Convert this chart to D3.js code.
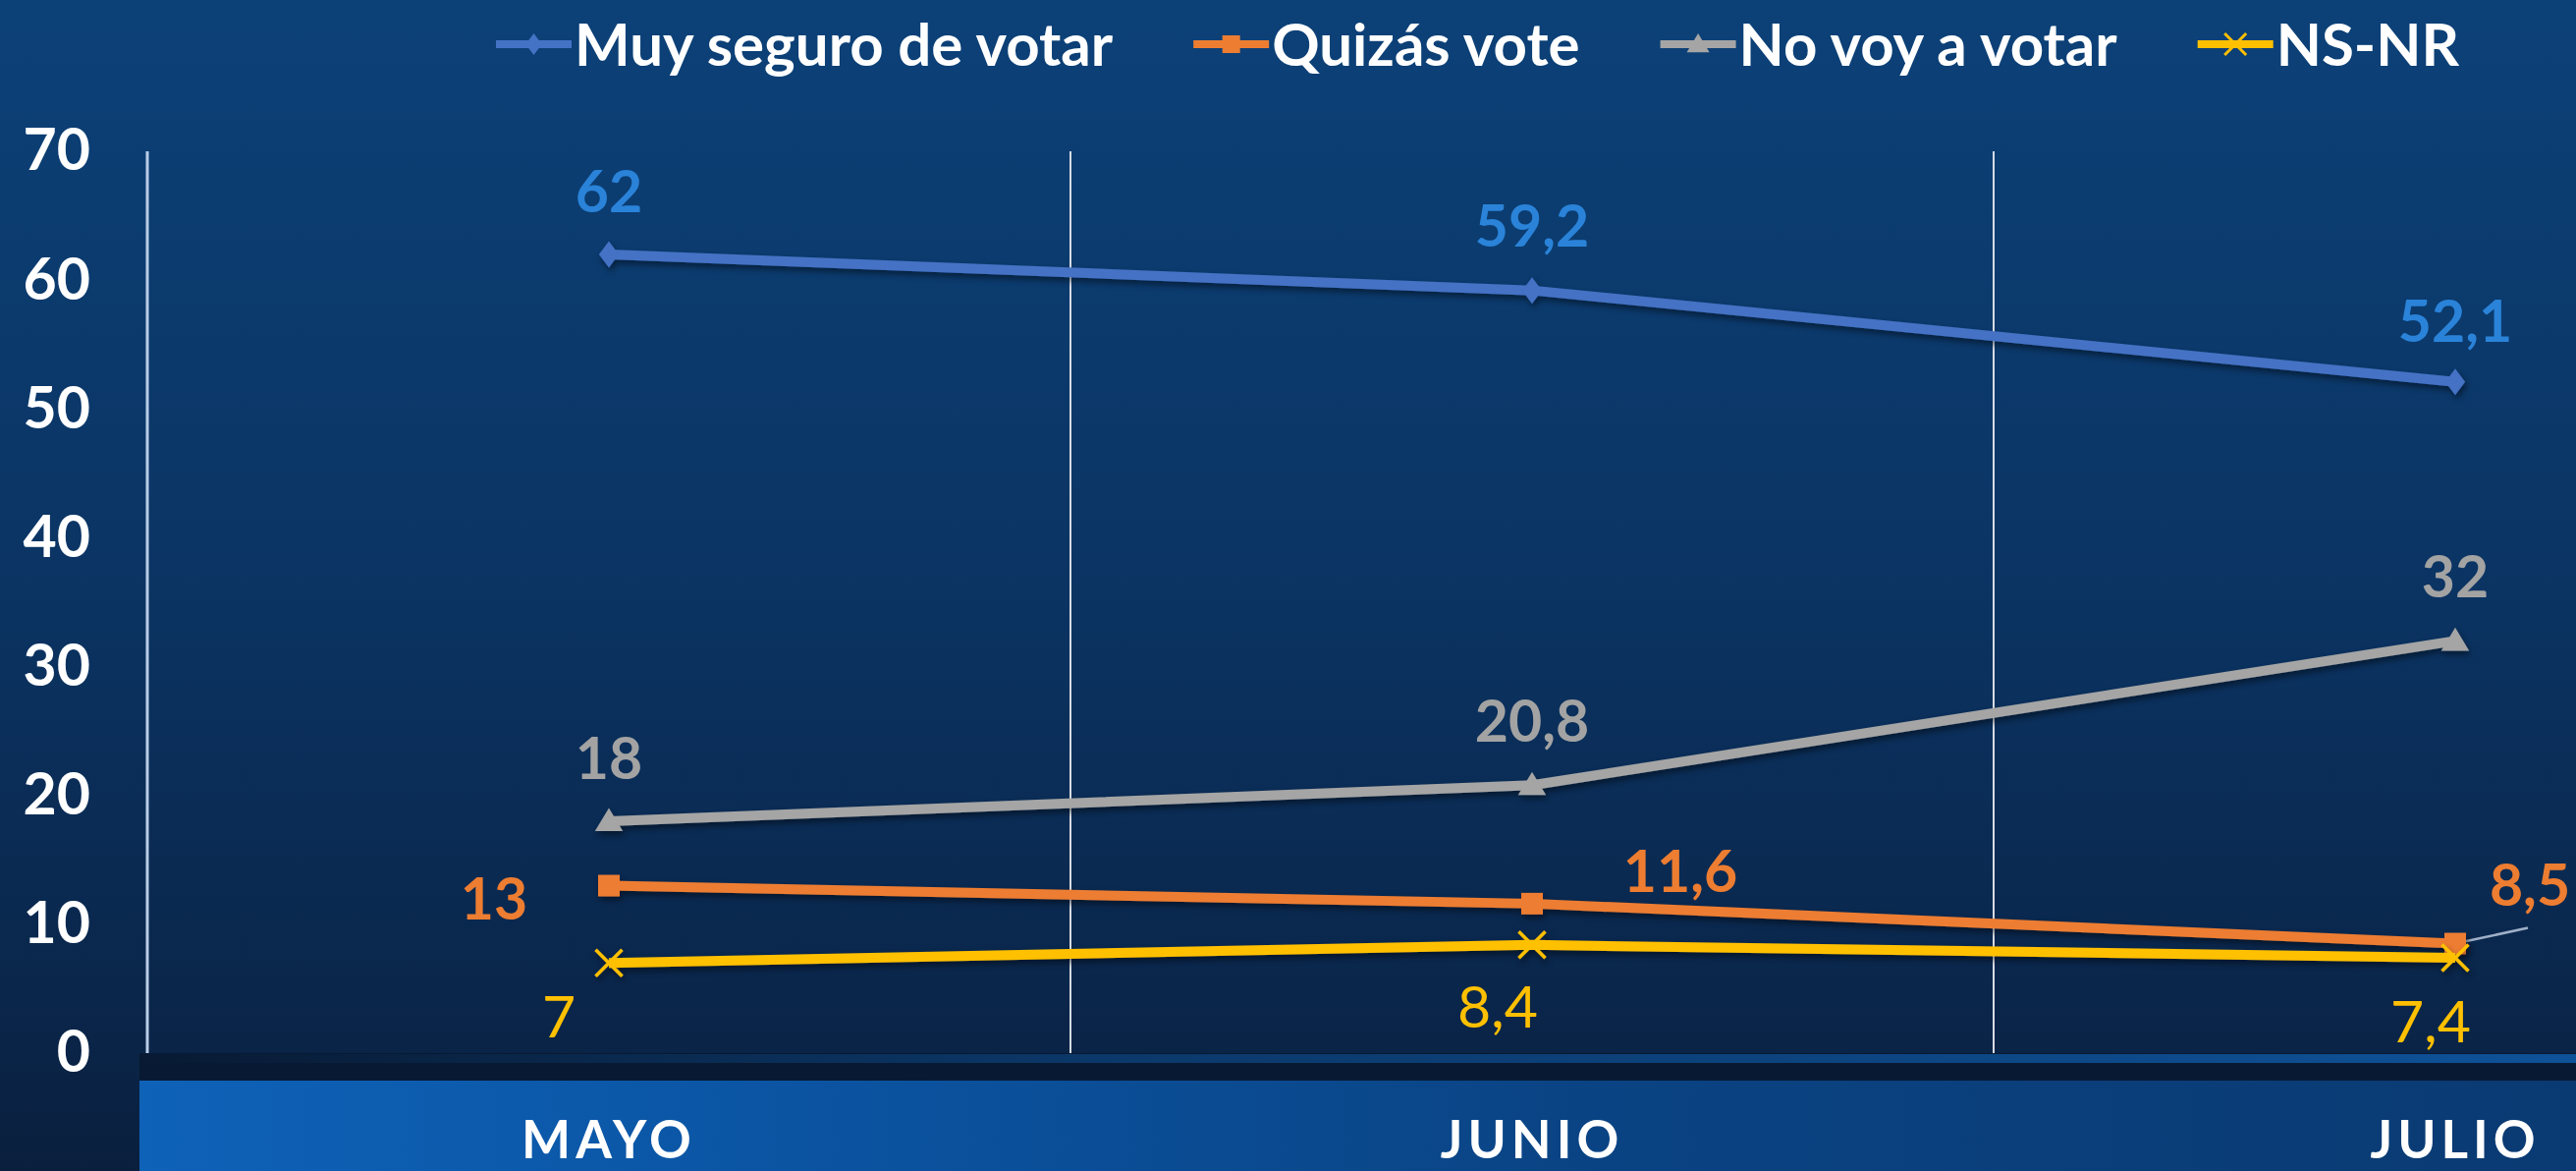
<!DOCTYPE html>
<html>
<head>
<meta charset="utf-8">
<script src="https://cdn.jsdelivr.net/npm/d3@7"></script>
<style>
  html, body { margin: 0; padding: 0; background: #0b2c55; }
  svg { display: block; font-family: Lato, "Open Sans", sans-serif; }
</style>
</head>
<body>
<svg id="chart"></svg>
<script>
// data
const months = ["MAYO", "JUNIO", "JULIO"]
const seriesNames = ["Muy seguro de votar", "Quizás vote", "No voy a votar", "NS-NR"]
const muySeguro = [62, 59.2, 52.1]
const quizas = [13, 11.6, 8.5]
const noVoy = [18, 20.8, 32]
const nsnr = [7, 8.4, 7.4]
const yTicks = [0, 10, 20, 30, 40, 50, 60, 70]

const W = 2623, H = 1192
const colors = ["#4472c4", "#ed7d31", "#a5a5a5", "#ffc000"]
const labelColors = ["#2a83d8", "#ed7d31", "#a3a3a3", "#ffc000"]
const markers = ["diamond", "square", "triangle", "x"]
// where each data label sits relative to its point (dx, dy of text centre)
const labelOffsets = [
  [[0, -64], [0, -66], [0, -62]],
  [[-117, 13], [151, -33], [76, -60]],
  [[0, -64], [0, -65], [0, -66]],
  [[-51, 55], [-35, 63], [-25, 65]]
]

const svg = d3.select("#chart").attr("width", W).attr("height", H)
const defs = svg.append("defs")

let bg = defs.append("linearGradient").attr("id", "bg")
  .attr("x1", 0).attr("y1", 0).attr("x2", 0).attr("y2", 1)
bg.append("stop").attr("offset", "0%").attr("stop-color", "#0c4178")
bg.append("stop").attr("offset", "50%").attr("stop-color", "#0b3463")
bg.append("stop").attr("offset", "90%").attr("stop-color", "#0a2447")
bg.append("stop").attr("offset", "100%").attr("stop-color", "#0a1f3d")

let band = defs.append("linearGradient").attr("id", "band")
  .attr("x1", 0).attr("y1", 0).attr("x2", 1).attr("y2", 0)
band.append("stop").attr("offset", "0%").attr("stop-color", "#0e62b8")
band.append("stop").attr("offset", "25%").attr("stop-color", "#0b55a4")
band.append("stop").attr("offset", "60%").attr("stop-color", "#0a4383")
band.append("stop").attr("offset", "100%").attr("stop-color", "#0a3a72")

let strip = defs.append("linearGradient").attr("id", "strip")
  .attr("x1", 0).attr("y1", 0).attr("x2", 1).attr("y2", 0)
strip.append("stop").attr("offset", "0%").attr("stop-color", "#0d4d90").attr("stop-opacity", 0)
strip.append("stop").attr("offset", "40%").attr("stop-color", "#0d4d90").attr("stop-opacity", 0.6)
strip.append("stop").attr("offset", "100%").attr("stop-color", "#0e5299").attr("stop-opacity", 1)

defs.append("filter").attr("id", "shadow")
  .attr("x", "-5%").attr("y", "-20%").attr("width", "110%").attr("height", "140%")
  .append("feDropShadow").attr("dx", 2).attr("dy", 4).attr("stdDeviation", 3)
  .attr("flood-color", "#000").attr("flood-opacity", 0.45)

svg.append("rect").attr("width", W).attr("height", H).attr("fill", "url(#bg)")

// scales: plot runs past the right edge like the original
const x = d3.scaleBand().domain(months).range([150, 2970])
const cx = d => x(d) + x.bandwidth() / 2
const y = d3.scaleLinear().domain([0, 70]).range([1072, 154])

// bottom strip + month banner
svg.append("rect").attr("x", 142).attr("y", 1072).attr("width", W - 142).attr("height", 28).attr("fill", "#081a33")
svg.append("rect").attr("x", 142).attr("y", 1073).attr("width", W - 142).attr("height", 9).attr("fill", "url(#strip)")
svg.append("rect").attr("x", 142).attr("y", 1100).attr("width", W - 142).attr("height", H - 1100).attr("fill", "url(#band)")

// vertical separators
svg.selectAll(".sep").data(months.slice(1)).enter().append("line")
  .attr("x1", d => x(d)).attr("x2", d => x(d))
  .attr("y1", y(70)).attr("y2", y(0))
  .attr("stroke", "#d6dbe3").attr("stroke-width", 2)
svg.append("line")
  .attr("x1", x(months[0])).attr("x2", x(months[0]))
  .attr("y1", y(70)).attr("y2", y(0))
  .attr("stroke", "#b9cde8").attr("stroke-width", 3)

// y axis
let yAxis = d3.axisLeft(y).tickValues(yTicks).tickSize(0).tickPadding(58)
let ya = svg.append("g").attr("transform", "translate(150,0)").call(yAxis)
ya.select(".domain").remove()
ya.selectAll("text").attr("fill", "#fff").style("font-size", "59px").style("font-weight", "bold")
  .attr("font-family", "Lato, sans-serif")

// month labels
svg.selectAll(".month").data(months).enter().append("text")
  .attr("x", cx).attr("y", 1179)
  .attr("text-anchor", "middle")
  .attr("fill", "#fff").style("font-size", "53px").style("font-weight", "bold")
  .style("letter-spacing", "5px")
  .text(d => d)

function symbolPath(type, size) {
  let s = size / 2
  if (type == "diamond") return `M0,${-s}L${s * 0.75},0L0,${s}L${-s * 0.75},0Z`
  if (type == "square") return `M${-s},${-s}H${s}V${s}H${-s}Z`
  if (type == "triangle") return `M0,${-s}L${s * 1.05},${s * 0.75}L${-s * 1.05},${s * 0.75}Z`
  return `M${-s},${-s}L${s},${s}M${s},${-s}L${-s},${s}`
}

const allSeries = [muySeguro, quizas, noVoy, nsnr]
let line = d3.line().x((v, i) => cx(months[i])).y(v => y(v))
let fmt = v => String(v).replace(".", ",")

// leader line for the 8,5 label
svg.append("line")
  .attr("x1", cx(months[2]) + 9).attr("y1", y(quizas[2]) - 2)
  .attr("x2", cx(months[2]) + 74).attr("y2", y(quizas[2]) - 16)
  .attr("stroke", "#9fb0c8").attr("stroke-width", 2.5)

// draw bottom-most series last so the order matches the original stacking
let order = [2, 1, 0, 3]
order.forEach(k => {
  let vals = allSeries[k]
  let g = svg.append("g").attr("filter", "url(#shadow)")
  g.append("path").datum(vals).attr("d", line)
    .attr("fill", "none").attr("stroke", colors[k]).attr("stroke-width", 10)
    .attr("stroke-linejoin", "round")
  g.selectAll("path.m").data(vals).enter().append("path").attr("class", "m")
    .attr("transform", (v, i) => `translate(${cx(months[i])},${y(v)})`)
    .attr("d", symbolPath(markers[k], markers[k] == "square" ? 22 : 27))
    .attr("fill", markers[k] == "x" ? "none" : colors[k])
    .attr("stroke", colors[k]).attr("stroke-width", markers[k] == "x" ? 3.5 : 0)
})

// data labels
allSeries.forEach((vals, k) => {
  svg.selectAll(null).data(vals).enter().append("text")
    .attr("x", (v, i) => cx(months[i]) + labelOffsets[k][i][0])
    .attr("y", (v, i) => y(v) + labelOffsets[k][i][1])
    .attr("dy", "0.36em")
    .attr("text-anchor", "middle")
    .attr("fill", labelColors[k])
    .style("font-size", "59px")
    .style("font-weight", k == 3 ? "normal" : "bold")
    .text(fmt)
})

// legend
let lx = 505
seriesNames.forEach((name, k) => {
  let g = svg.append("g").attr("transform", `translate(${lx},45)`)
  g.append("line").attr("x1", 0).attr("x2", 77).attr("stroke", colors[k]).attr("stroke-width", 8)
  g.append("path").attr("transform", "translate(38.5,0)")
    .attr("d", symbolPath(markers[k], markers[k] == "square" ? 18 : 22))
    .attr("fill", markers[k] == "x" ? "none" : colors[k])
    .attr("stroke", colors[k]).attr("stroke-width", markers[k] == "x" ? 3 : 0)
  let t = g.append("text").attr("x", 80).attr("dy", "0.36em")
    .attr("fill", "#fff").style("font-size", "60px").style("font-weight", "bold")
    .text(name)
  lx += 80 + t.node().getComputedTextLength() + 82
})
</script>
</body>
</html>
